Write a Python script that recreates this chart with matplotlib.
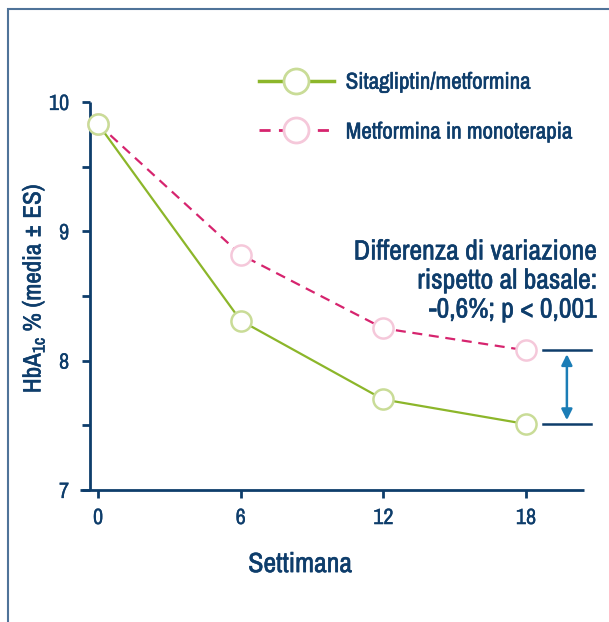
import matplotlib
matplotlib.use("Agg")
import matplotlib.pyplot as plt
import matplotlib.patheffects as pe
from matplotlib.lines import Line2D
from matplotlib.patches import Rectangle

plt.rcParams['font.family'] = ['Archivo Narrow', 'DejaVu Sans']
plt.rcParams['mathtext.fontset'] = 'custom'
plt.rcParams['mathtext.rm'] = 'Archivo Narrow'

weeks = [0, 6, 12, 18]
sita_met = [9.83, 8.31, 7.70, 7.51]
metformina = [9.83, 8.82, 8.25, 8.08]
x_ticks = [0, 6, 12, 18]
y_ticks = [7, 8, 9, 10]
y_minor = [7.5, 8.5, 9.5]

navy = '#0e3d6b'
green = '#8cb62a'
green_light = '#c9dc97'
pink = '#d6246e'
pink_light = '#f5c8da'
arrow_col = '#1b7db6'

# slightly heavier text, closer to the medium weight of the original
bold = [pe.withStroke(linewidth=0.4, foreground=navy)]

fig = plt.figure(figsize=(6.09, 6.22), dpi=100)
ax = fig.add_axes([80/609, 1-490/622, 504/609, 388/622])

# outer frame (runs off right and bottom)
fig.add_artist(Rectangle((8/609, -0.1), 1.2, 1-8.6/622+0.1, transform=fig.transFigure,
                         fill=False, edgecolor='#4f7399', lw=1.5))

ax.plot(weeks, metformina, color=pink, lw=1.6, ls=(0, (4.5, 3)), zorder=2,
        marker='o', ms=14.5, mfc='white', mec=pink_light, mew=1.8)
ax.plot(weeks, sita_met, color=green, lw=1.6, zorder=3,
        marker='o', ms=14.5, mfc='white', mec=green_light, mew=1.8)

ax.set_xlim(-0.76, 20.44)
ax.set_ylim(7, 10)
for s in ['top', 'right']:
    ax.spines[s].set_visible(False)
ax.spines['left'].set_position(('data', -0.34))
for s in ['left', 'bottom']:
    ax.spines[s].set_color(navy)
    ax.spines[s].set_linewidth(2)
    ax.spines[s].set_capstyle('butt')

ax.set_xticks(x_ticks)
ax.set_yticks(y_ticks)
ax.set_yticks(y_minor, minor=True)
ax.tick_params(axis='both', which='both', colors=navy, width=2, length=6,
               labelsize=16, labelcolor=navy)
ax.tick_params(axis='y', pad=9)
ax.tick_params(axis='x', pad=7)
for lab in ax.get_xticklabels() + ax.get_yticklabels():
    lab.set_path_effects([pe.withStroke(linewidth=0.2, foreground=navy)])

ax.set_xlabel('Settimana', fontsize=20, color=navy, path_effects=bold)
ax.xaxis.set_label_coords(0.437, -0.16)
ax.set_ylabel(r'HbA$_{\mathrm{1c}}$ % (media ± ES)', fontsize=18, color=navy,
              path_effects=bold)
ax.yaxis.set_label_coords(-0.066, 0.52)

# difference marker
for v in [metformina[-1], sita_met[-1]]:
    ax.plot([18.71, 20.73], [v, v], color=navy, lw=1.8, clip_on=False)
ax.annotate('', xy=(19.72, sita_met[-1] + 0.03), xytext=(19.72, metformina[-1] - 0.03),
            arrowprops=dict(arrowstyle='<|-|>', color=arrow_col, lw=1.8,
                            mutation_scale=16, shrinkA=0, shrinkB=0),
            annotation_clip=False)

fig.text(597/609, 1-281/622, 'Differenza di variazione\nrispetto al basale:\n-0,6%; p < 0,001',
         ha='right', va='center', multialignment='right', fontsize=20,
         color=navy, linespacing=1.2, path_effects=bold)

handles = [
    Line2D([], [], color=green, lw=2.5, marker='o', ms=18, mfc='white',
           mec=green_light, mew=2),
    Line2D([], [], color=pink, lw=2, ls=(0, (4, 3)), marker='o', ms=18, mfc='white',
           mec=pink_light, mew=2),
]
leg = fig.legend(handles, ['Sitagliptin/metformina', 'Metformina in monoterapia'],
                 loc='upper left', bbox_to_anchor=(238/609, 1-52/622), frameon=False,
                 fontsize=16.5, handlelength=3.3, handletextpad=0.5, labelspacing=1.3)
for t in leg.get_texts():
    t.set_color(navy)
    t.set_path_effects(bold)

fig.savefig('out.png', dpi=100)
